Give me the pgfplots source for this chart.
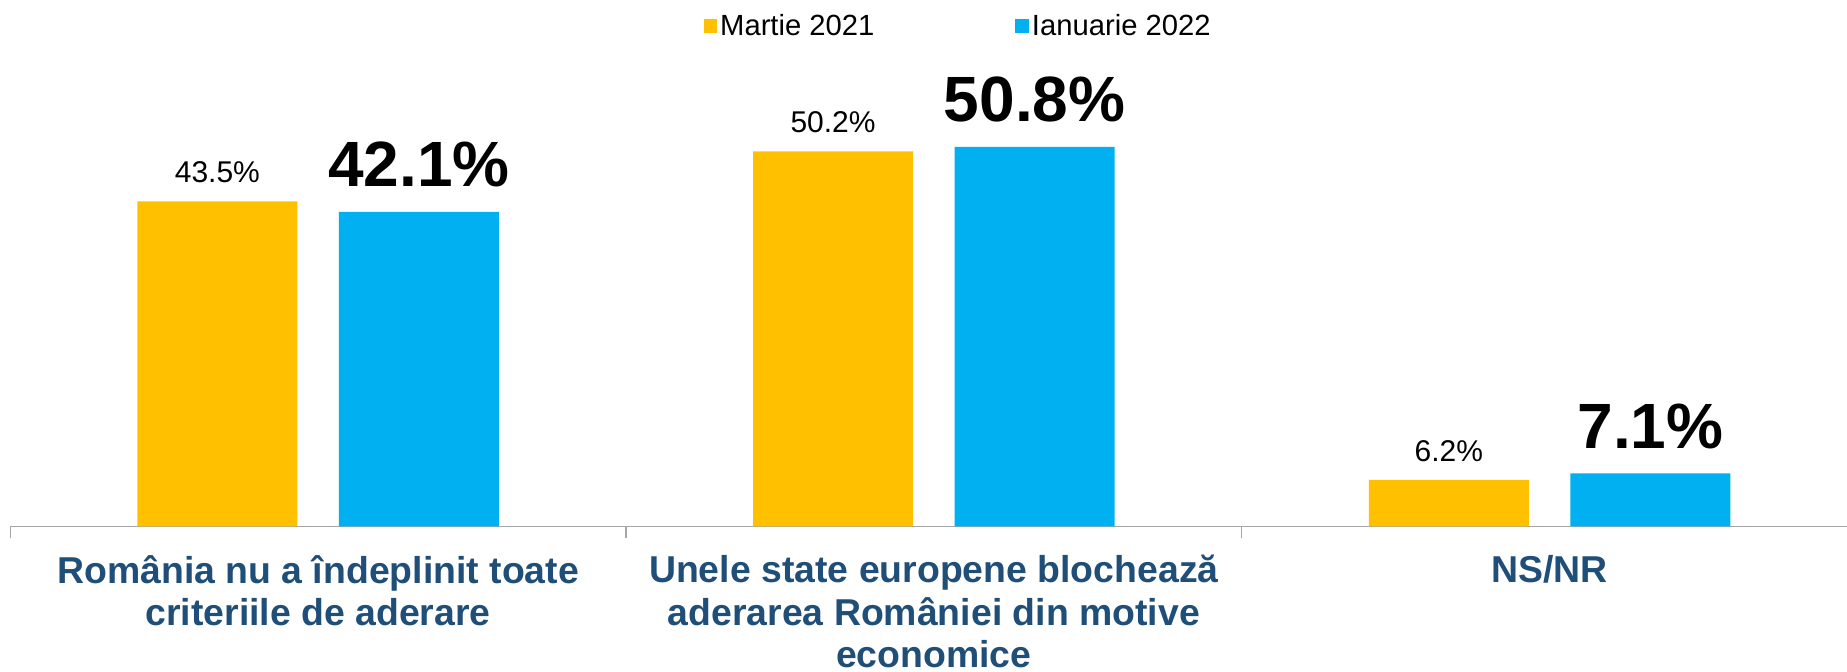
\documentclass[border=0pt]{standalone}
\usepackage{fontspec}
\setmainfont{Liberation Sans}
\usepackage{pgfplots}
\pgfplotsset{compat=1.18}
\definecolor{cyellow}{HTML}{FFC000}
\definecolor{cblue}{HTML}{00B0F0}
\definecolor{labelblue}{HTML}{1F4E79}
\definecolor{axisgray}{HTML}{A6A6A6}
\begin{document}
\begin{tikzpicture}
\begin{axis}[
  at={(0pt,0pt)}, anchor=south west,
  scale only axis,
  width=918.35pt, height=261.45pt,
  xmin=-0.5, xmax=2.4831,
  ymin=0, ymax=70,
  clip=false,
  axis x line=bottom,
  axis y line=none,
  axis line style={-, draw=axisgray, line width=0.75pt},
  ytick=\empty,
  xtick={0,1,2},
  xticklabels={{România nu a îndeplinit toate\\criteriile de aderare},{Unele state europene blochează\\aderarea României din motive\\economice},{NS/NR}},
  major tick length=0pt,
  xtick style={draw=none},
  xticklabel style={align=center, text=labelblue, font=\fontsize{18.7}{21.3}\selectfont\bfseries, anchor=north, inner sep=0pt, yshift=-14.2pt},
  extra x ticks={-0.5,0.5,1.5},
  extra x tick labels={},
  extra x tick style={major tick length=5.75pt, tick align=outside, xtick style={draw=axisgray, line width=0.75pt}},
  /pgf/number format/assume math mode=true,
  legend columns=2,
  legend style={at={(0.5163,0.9568)}, anchor=center, draw=none, fill=none,
    font=\fontsize{14.6}{17}\selectfont,
    /tikz/every even column/.append style={column sep=69pt},
    nodes={inner sep=1.5pt}},
  legend image code/.code={\fill[#1] (0pt,-3.4pt) rectangle (6.8pt,3.4pt);},
]
\addplot[ybar, bar width=80pt, bar shift=0pt, fill=cyellow, draw=none,
  nodes near coords={\pgfmathprintnumber[fixed,fixed zerofill,precision=1]{\pgfplotspointmeta}\%},
  nodes near coords style={anchor=base, inner sep=0pt, yshift=9.35pt, font=\fontsize{15}{15}\selectfont, text=black}]
  coordinates {(-0.1637,43.5) (0.8363,50.2) (1.8363,6.2)};
\addlegendentry{Martie 2021}
\addplot[ybar, bar width=80pt, bar shift=0pt, fill=cblue, draw=none,
  nodes near coords={\pgfmathprintnumber[fixed,fixed zerofill,precision=1]{\pgfplotspointmeta}\%},
  nodes near coords style={anchor=base, inner sep=0pt, yshift=12.5pt, font=\fontsize{32}{32}\selectfont\bfseries, text=black}]
  coordinates {(0.1637,42.1) (1.1637,50.8) (2.1637,7.1)};
\addlegendentry{Ianuarie 2022}
\end{axis}
\pgfresetboundingbox
\useasboundingbox (-5.15pt,-72.35pt) rectangle (918.35pt,263.15pt);
\end{tikzpicture}
\end{document}
